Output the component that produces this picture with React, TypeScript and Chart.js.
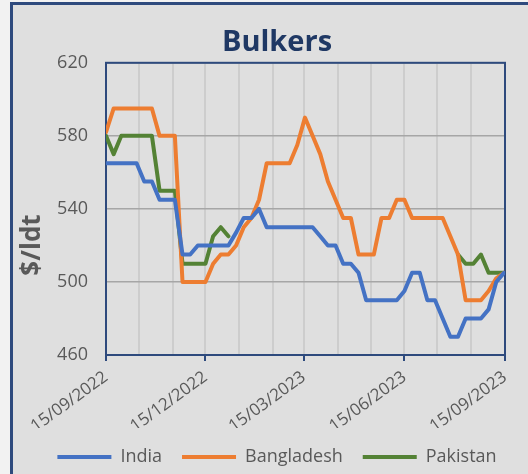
import React, { useEffect, useRef } from 'react';
import { Chart, registerables } from 'chart.js';
Chart.register(...registerables);

// Weekly observations starting 15/09/2022
const india = [
  565, 565, 565, 565, 565, 555, 555, 545, 545, 545,
  515, 515, 520, 520, 520, 520, 520, 527, 535, 535,
  540, 530, 530, 530, 530, 530, 530, 530, 525, 520,
  520, 510, 510, 505, 490, 490, 490, 490, 490, 495,
  505, 505, 490, 490, 480, 470, 470, 480, 480, 480,
  485, 500, 505,
];
const bangladesh = [
  582, 595, 595, 595, 595, 595, 595, 580, 580, 580,
  500, 500, 500, 500, 510, 515, 515, 520, 530, 535,
  545, 565, 565, 565, 565, 575, 590, 580, 570, 555,
  545, 535, 535, 515, 515, 515, 535, 535, 545, 545,
  535, 535, 535, 535, 535, 525, 515, 490, 490, 490,
  495, 502, 505,
];
const pakistan: (number | null)[] = [
  580, 570, 580, 580, 580, 580, 580, 550, 550, 550,
  510, 510, 510, 510, 525, 530, 525, null, null, null,
  null, null, null, null, null, null, null, null, null, null,
  null, null, null, null, null, null, null, null, null, null,
  null, null, null, null, null, null, 515, 510, 510, 515,
  505, 505, 505,
];
// day offsets (from 15/09/2022) of the 15th of each month
const monthTickDays = [0, 30, 61, 91, 122, 153, 181, 212, 242, 273, 303, 334, 365];
const labelDays = [0, 91, 181, 273, 365];
const tickLabels = ['15/09/2022', '15/12/2022', '15/03/2023', '15/06/2023', '15/09/2023'];
const weekStepDays = 7;
const yTitle = '$/ldt';

const NAVY = '#2e4a7d';
const GREY_TEXT = '#595959';
const FAMILY = "'Open Sans', sans-serif";

export default function App() {
  const ref = useRef<HTMLCanvasElement>(null);
  useEffect(() => {
    if (!ref.current) return;
    const toPts = (arr: (number | null)[]) => arr.map((v, i) => ({ x: i * weekStepDays, y: v }));
    const frame = {
      id: 'frame',
      beforeDatasetsDraw(chart: any) {
        const { ctx, chartArea: a } = chart;
        ctx.save();
        ctx.strokeStyle = NAVY;
        ctx.lineWidth = 2;
        ctx.strokeRect(a.left, a.top, a.right - a.left, a.bottom - a.top);
        ctx.restore();
      },
    };
    const yTitlePlugin = {
      id: 'ytitle',
      afterDraw(chart: any) {
        const { ctx } = chart;
        ctx.save();
        ctx.translate(20, 240);
        ctx.rotate(-Math.PI / 2);
        ctx.textAlign = 'center';
        ctx.textBaseline = 'middle';
        ctx.font = `bold 26px ${FAMILY}`;
        ctx.fillStyle = GREY_TEXT;
        ctx.fillText(yTitle, 0, 0);
        ctx.restore();
      },
    };
    const font = { family: FAMILY, size: 18 };
    const chart = new Chart(ref.current, {
      type: 'line',
      data: {
        datasets: [
          { label: 'India', data: toPts(india) as any, borderColor: '#4472c4', backgroundColor: '#4472c4' },
          { label: 'Bangladesh', data: toPts(bangladesh) as any, borderColor: '#ed7d31', backgroundColor: '#ed7d31' },
          { label: 'Pakistan', data: toPts(pakistan) as any, borderColor: '#548235', backgroundColor: '#548235' },
        ].map((d) => ({
          ...d,
          borderWidth: 4,
          pointRadius: 0,
          borderCapStyle: 'round' as const,
          borderJoinStyle: 'round' as const,
          spanGaps: false,
          tension: 0,
        })),
      },
      options: {
        responsive: false,
        animation: false,
        layout: { padding: 0 },
        plugins: {
          title: {
            display: true,
            text: 'Bulkers',
            color: '#1f3864',
            font: { family: FAMILY, size: 29, weight: 'bold' },
            padding: { top: 20, bottom: 3 },
          },
          legend: {
            position: 'bottom',
            labels: {
              usePointStyle: true,
              pointStyle: 'line',
              pointStyleWidth: 54,
              boxWidth: 54,
              padding: 20,
              color: GREY_TEXT,
              font,
            },
          },
          tooltip: { enabled: false },
        },
        scales: {
          x: {
            type: 'linear',
            min: 0,
            max: 365,
            afterBuildTicks: (s: any) => {
              s.ticks = monthTickDays.map((v) => ({ value: v }));
            },
            afterFit: (s: any) => {
              s.height = 73;
            },
            ticks: {
              autoSkip: false,
              minRotation: 36,
              maxRotation: 36,
              color: GREY_TEXT,
              font: { family: FAMILY, size: 17 },
              padding: 6,
              callback: (v: any) => {
                const i = labelDays.indexOf(Number(v));
                return i >= 0 ? tickLabels[i] : '';
              },
            },
            grid: {
              color: '#cdcdcd',
              lineWidth: 2,
              tickLength: 6,
              tickWidth: 2,
              tickColor: (c: any) => (c.tick && labelDays.includes(c.tick.value) ? NAVY : 'rgba(0,0,0,0)'),
            },
            border: { display: false },
          },
          y: {
            min: 460,
            max: 620,
            afterFit: (s: any) => {
              s.width = 93;
            },
            ticks: { stepSize: 40, color: GREY_TEXT, font, padding: 18 },
            grid: { color: '#a6a6a6', lineWidth: 1.5, drawTicks: false },
            border: { display: false },
          },
          spacer: {
            type: 'linear',
            position: 'right',
            display: true,
            afterFit: (s: any) => {
              s.width = 36;
            },
            ticks: { display: false },
            grid: { display: false, drawTicks: false },
            border: { display: false },
          },
        },
      },
      plugins: [frame, yTitlePlugin],
    } as any);
    return () => chart.destroy();
  }, []);
  return (
    <div style={{ position: 'fixed', left: 0, top: 0, width: 528, height: 474, background: '#f2f2f2', overflow: 'hidden' }}>
      <div
        style={{
          position: 'absolute',
          left: 10,
          top: 2,
          width: 600,
          height: 600,
          border: `3px solid ${NAVY}`,
          background: '#dfdfdf',
          boxSizing: 'border-box',
        }}
      />
      <canvas
        ref={ref}
        width={528}
        height={471}
        style={{ position: 'absolute', left: 13, top: 5, width: 528, height: 471 }}
      />
    </div>
  );
}
